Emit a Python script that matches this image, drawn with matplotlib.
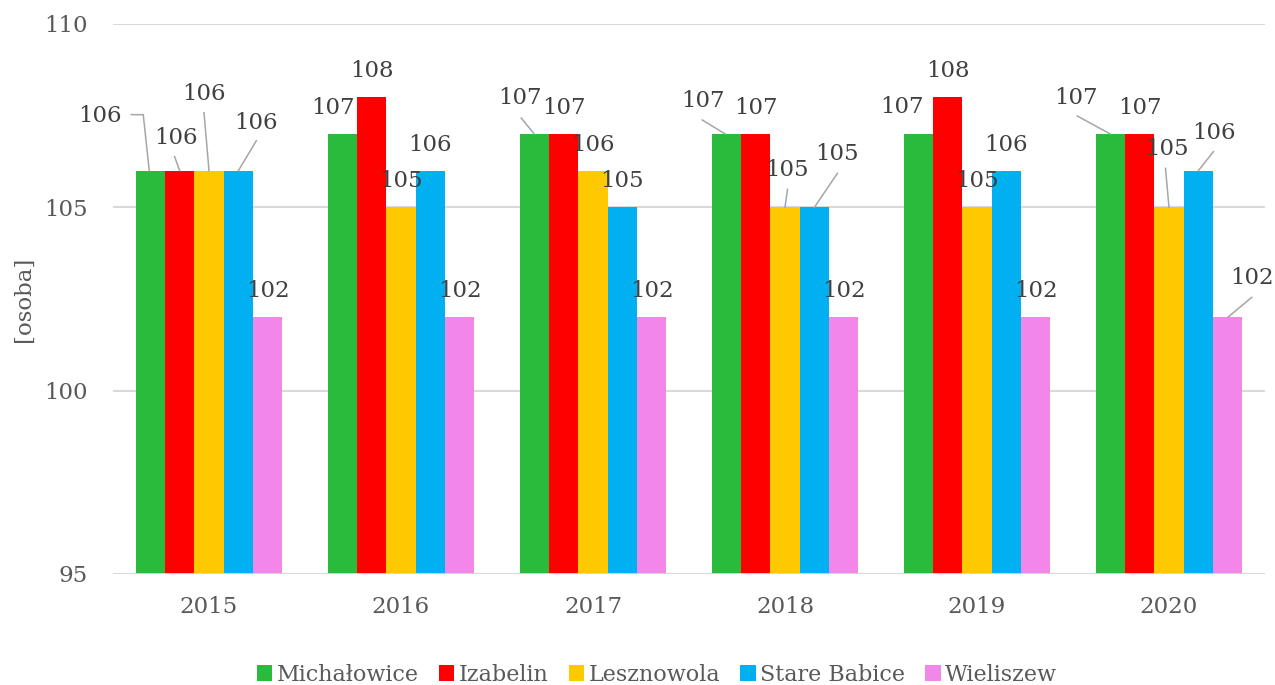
import matplotlib
matplotlib.use("Agg")
import matplotlib.pyplot as plt
import numpy as np

# data
years = ["2015", "2016", "2017", "2018", "2019", "2020"]
names = ["Michałowice", "Izabelin", "Lesznowola", "Stare Babice", "Wieliszew"]
michalowice = [106, 107, 107, 107, 107, 107]
izabelin = [106, 108, 107, 107, 108, 107]
lesznowola = [106, 105, 106, 105, 105, 105]
stare_babice = [106, 106, 105, 105, 106, 106]
wieliszew = [102, 102, 102, 102, 102, 102]
series = [michalowice, izabelin, lesznowola, stare_babice, wieliszew]
colors = ["#2BBB3C", "#FF0000", "#FFC900", "#00B0F0", "#F387E9"]

# label layout: (series, year) -> text offset in pixels (dx, dy) and leader points
default_dy = 26
moved = {
    (0, 0): ((-50, 55), [(-19, 56), (-7, 56), (-1, 0)]),
    (1, 0): ((-4, 33), [(-5, 14), (0, 0)]),
    (2, 0): ((-5, 77), [(-5, 58), (0, 0)]),
    (3, 0): ((18, 48), [(18, 30), (0, 0)]),
    (0, 1): ((-9, 26), None),
    (0, 2): ((-14, 36), [(-13, 16), (0, 0)]),
    (0, 3): ((-23, 33), [(-24, 14), (-1, 0)]),
    (2, 3): ((2.5, 37), [(2.5, 18), (0, 0)]),
    (3, 3): ((23, 53), [(23, 34), (0, 0)]),
    (0, 4): ((-16, 27), None),
    (0, 5): ((-34, 36), [(-33, 18), (0, 0)]),
    (2, 5): ((-2.5, 58), [(-3.5, 39), (0, 0)]),
    (3, 5): ((16, 38), [(15, 19), (0, 0)]),
    (4, 5): ((24, 39), [(24, 20), (0, 0)]),
}

plt.rcParams["font.family"] = ["DejaVu Serif"]
fs = 16.5

fig = plt.figure(figsize=(12.75, 6.85), dpi=100)
ax = fig.add_axes([113/1275, 1-574/685, (1265-113)/1275, (574-24)/685])

x = np.arange(len(years))
w = 0.153
for i, vals in enumerate(series):
    ax.bar(x + (i-2)*w, np.array(vals) - 95, w, bottom=95, color=colors[i],
           label=names[i], zorder=3)

ax.set_xlim(-0.5, len(years)-0.5)
ax.set_ylim(95, 110)
ax.set_yticks([95, 100, 105, 110])
ax.set_xticks(x)
ax.set_xticklabels(years)
ax.grid(axis="y", color="#D9D9D9", lw=1.5, zorder=0)
ax.tick_params(length=0, labelsize=fs, labelcolor="#595959")
ax.tick_params(axis="y", pad=18)
ax.tick_params(axis="x", pad=16)
for s in ax.spines.values():
    s.set_visible(False)
ax.axhline(95, color="#D9D9D9", lw=2, zorder=4)

# data labels
for i, vals in enumerate(series):
    for j, v in enumerate(vals):
        bx = x[j] + (i-2)*w
        off, leader = moved.get((i, j), ((0, default_dy), None))
        ax.annotate(str(v), (bx, v), xytext=off, textcoords="offset pixels",
                    ha="center", va="center", fontsize=fs, color="#404040", zorder=5)
        if leader:
            base = ax.transData.transform((bx, v))
            pts = np.array([base + np.array(p) for p in leader])
            pts = ax.transData.inverted().transform(pts)
            ax.plot(pts[:, 0], pts[:, 1], color="#A6A6A6", lw=1.1, zorder=5)

fig.text(24/1275, 1-299/685, "[osoba]", rotation=90, ha="center", va="center",
         fontsize=fs, color="#595959")

fig.legend(loc="center", bbox_to_anchor=(657/1275, 1-675/685), ncol=5, frameon=False,
           fontsize=16, handlelength=0.7, handleheight=0.7, handletextpad=0.2,
           columnspacing=0.9, labelcolor="#595959")

fig.savefig("out.png", dpi=100)
